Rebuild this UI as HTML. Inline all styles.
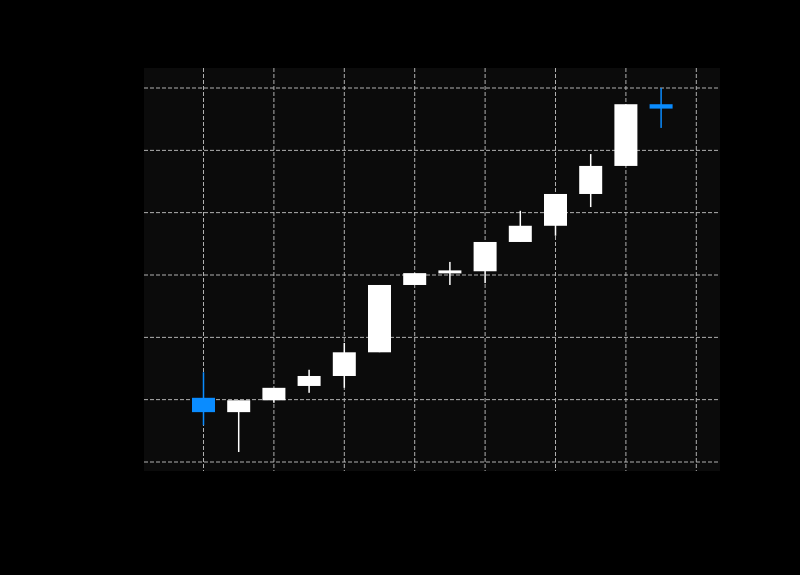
<!DOCTYPE html>
<html><head><meta charset="utf-8"><style>
html,body{margin:0;padding:0;background:#000;width:800px;height:575px;overflow:hidden}
svg{display:block}
</style></head><body>
<svg id="chart" width="800" height="575" xmlns="http://www.w3.org/2000/svg">
<rect x="0" y="0" width="800" height="575" fill="#000"/>
<rect x="144" y="68" width="576" height="403" fill="#0b0b0b"/>
<g id="grid"></g>
<g id="candles"></g>
</svg>
<script>
const opens  = [1.03,0.80,0.99,1.22,1.38,1.76,2.84,3.03,3.06,3.53,3.79,4.30,4.75,5.74];
const closes = [0.80,0.99,1.19,1.38,1.76,2.84,3.03,3.07,3.53,3.79,4.30,4.75,5.74,5.67];
const highs  = [1.44,0.99,1.19,1.48,1.91,2.84,3.03,3.21,3.53,4.03,4.30,4.94,5.74,6.00];
const lows   = [0.59,0.16,0.95,1.11,1.19,1.76,2.84,2.84,2.87,3.53,3.63,4.09,4.75,5.36];
const yTicks = [0,1,2,3,4,5,6];
const xTicks = [0,2,4,6,8,10,12,14];

const NS="http://www.w3.org/2000/svg";
const xScale = i => 203.5 + i*35.2;
const yScale = v => 462 - v*62.33;
const grid=document.getElementById('grid'), cg=document.getElementById('candles');
function mk(tag,attrs,parent){const e=document.createElementNS(NS,tag);for(const k in attrs)e.setAttribute(k,attrs[k]);parent.appendChild(e);return e;}
yTicks.forEach(t=>{
  const l=mk('line',{x1:144,x2:720,y1:yScale(t),y2:yScale(t),stroke:'#b0b0b0','stroke-width':1,'stroke-dasharray':'4,2'},grid);
  
  
});
xTicks.forEach(t=>{
  const l=mk('line',{x1:xScale(t),x2:xScale(t),y1:68,y2:471,stroke:'#b0b0b0','stroke-width':1,'stroke-dasharray':'4,2'},grid);
  
  
});
opens.forEach((o,i)=>{
  const c=closes[i], up=c>=o, col=up?'#ffffff':'#0a8cff';
  const x=xScale(i);
  const w=mk('line',{x1:x,x2:x,y1:yScale(highs[i]),y2:yScale(lows[i]),stroke:col,'stroke-width':1.5},cg);
  
  
  const top=yScale(Math.max(o,c)), bot=yScale(Math.min(o,c));
  const h=Math.max(bot-top,3);
  const r=mk('rect',{x:x-11.5,y:(top+bot)/2-h/2,width:23,height:h,fill:col},cg);
  
  
});
</script>
</body></html>
